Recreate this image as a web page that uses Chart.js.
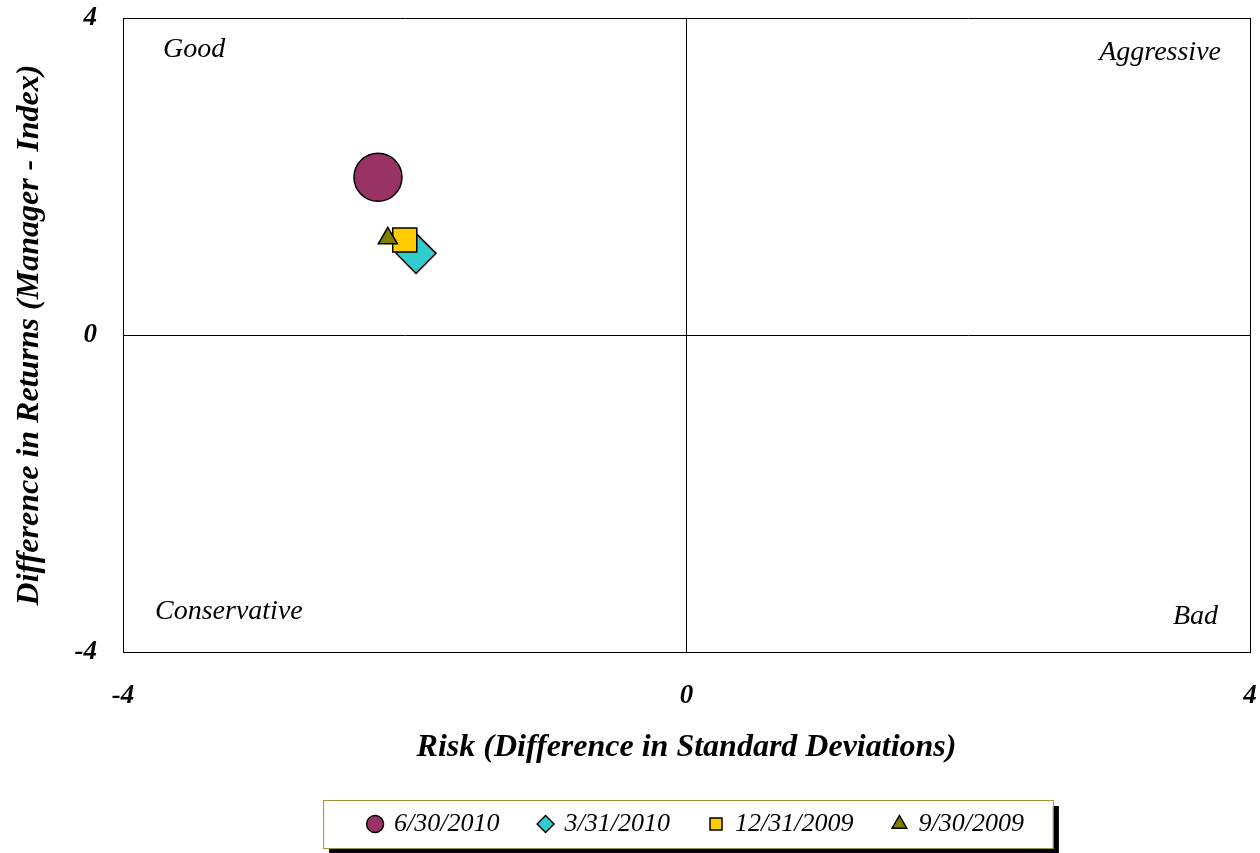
<!DOCTYPE html>
<html>
<head>
<meta charset="utf-8">
<script src="https://cdn.jsdelivr.net/npm/chart.js@4/dist/chart.umd.min.js"></script>
<style>
  html, body { margin: 0; padding: 0; background: #ffffff; }
  #wrap { width: 1260px; height: 853px; position: relative; }
</style>
</head>
<body>
<div id="wrap"><canvas id="c" width="1260" height="853"></canvas></div>
<script>
// Risk / return positions of the manager versus the index, by quarter end
const seriesNames = ['6/30/2010', '3/31/2010', '12/31/2009', '9/30/2009'];
const riskDiff    = [-2.19, -1.92, -2.00, -2.12];   // x: difference in standard deviations
const returnDiff  = [ 1.99,  1.03,  1.20,  1.22];   // y: difference in returns
const axisTicks   = [-4, 0, 4];
const quadrantNames = ['Good', 'Aggressive', 'Conservative', 'Bad'];

const markerStyles  = ['circle', 'rectRot', 'rect', 'triangle'];
const markerColors  = ['#993366', '#33CCCC', '#FFCC00', '#808000'];
const markerRadii   = [24, 20, 17, 11];
const drawOrder     = [4, 3, 2, 1];   // lower order is painted on top

const FONT = "'Liberation Serif', 'Times New Roman', serif";

const datasets = seriesNames.map((name, i) => ({
  label: name,
  data: [{ x: riskDiff[i], y: returnDiff[i] }],
  pointStyle: markerStyles[i],
  backgroundColor: markerColors[i],
  borderColor: '#000000',
  borderWidth: 1.5,
  pointRadius: markerRadii[i],
  pointHoverRadius: markerRadii[i],
  order: drawOrder[i]
}));

// Edge tick labels may overhang the plot area instead of shrinking it
const noEdgePadding = () => ({ left: 0, top: 0, right: 0, bottom: 0 });

// Quadrant captions placed inside the plot corners
const quadrantLabels = {
  id: 'quadrantLabels',
  beforeDatasetsDraw(chart) {
    const { ctx, chartArea: a } = chart;
    ctx.save();
    ctx.font = "italic 28px " + FONT;
    ctx.fillStyle = '#000000';
    ctx.textBaseline = 'middle';
    ctx.textAlign = 'left';
    ctx.fillText(quadrantNames[0], a.left + 40, a.top + 32);
    ctx.fillText(quadrantNames[2], a.left + 32, a.bottom - 40);
    ctx.textAlign = 'right';
    ctx.fillText(quadrantNames[1], a.right - 29, a.top + 35);
    ctx.fillText(quadrantNames[3], a.right - 32, a.bottom - 35);
    ctx.restore();
  }
};

// Legend centred under the plot area, in a framed panel with a drop shadow
const legendFrame = {
  id: 'legendFrame',
  afterLayout(chart) {
    const lg = chart.legend, a = chart.chartArea;
    if (!lg) return;
    const shift = (a.left + a.right) / 2 - (lg.left + lg.right) / 2 + 10;
    lg.left += shift;
    lg.right += shift;
  },
  beforeDraw(chart) {
    const lg = chart.legend;
    if (!lg || !lg.legendHitBoxes || !lg.legendHitBoxes.length) return;
    const boxes = lg.legendHitBoxes;
    let l = Infinity, r = -Infinity, t = Infinity, b = -Infinity;
    boxes.forEach(h => {
      l = Math.min(l, h.left); r = Math.max(r, h.left + h.width);
      t = Math.min(t, h.top);  b = Math.max(b, h.top + h.height);
    });
    const x0 = l - 46, x1 = r + 29, y0 = t - 11, y1 = b + 11;
    const ctx = chart.ctx;
    ctx.save();
    ctx.fillStyle = '#000000';
    ctx.fillRect(x0 + 6, y0 + 6, x1 - x0, y1 - y0);
    ctx.fillStyle = '#ffffff';
    ctx.fillRect(x0, y0, x1 - x0, y1 - y0);
    ctx.strokeStyle = '#999933';
    ctx.lineWidth = 1;
    ctx.strokeRect(x0 + 0.5, y0 + 0.5, x1 - x0, y1 - y0);
    ctx.restore();
  }
};

new Chart(document.getElementById('c'), {
  type: 'scatter',
  data: { datasets },
  plugins: [quadrantLabels, legendFrame],
  options: {
    responsive: false,
    animation: false,
    layout: { autoPadding: false, padding: { top: 18, right: 10, left: 0, bottom: 6 } },
    plugins: {
      tooltip: { enabled: false },
      legend: {
        position: 'bottom',
        labels: {
          usePointStyle: true,
          boxWidth: 12,
          boxHeight: 12,
          padding: 40,
          color: '#000000',
          font: { family: FONT, size: 26, style: 'italic' },
          sort: (a, b) => a.datasetIndex - b.datasetIndex
        }
      }
    },
    scales: {
      x: {
        type: 'linear',
        min: -4, max: 4,
        afterBuildTicks: s => { s.ticks = axisTicks.map(v => ({ value: v })); },
        afterFit: s => {
          s.height = 119;
          s.paddingLeft = 0; s.paddingRight = 0;
          s.getPadding = noEdgePadding;
        },
        ticks: {
          color: '#000000',
          padding: 28,
          font: { family: FONT, size: 27, style: 'italic', weight: 'bold' }
        },
        grid: { color: '#000000', lineWidth: 1, drawTicks: false },
        border: { display: true, color: '#000000', width: 1 },
        title: {
          display: true,
          text: 'Risk (Difference in Standard Deviations)',
          color: '#000000',
          padding: { top: 0, bottom: 4 },
          font: { family: FONT, size: 32, style: 'italic', weight: 'bold' }
        }
      },
      y: {
        type: 'linear',
        min: -4, max: 4,
        afterBuildTicks: s => { s.ticks = axisTicks.map(v => ({ value: v })); },
        afterFit: s => {
          s.width = 123;
          s.paddingTop = 0; s.paddingBottom = 0;
          s.getPadding = noEdgePadding;
        },
        ticks: {
          color: '#000000',
          padding: 26,
          font: { family: FONT, size: 27, style: 'italic', weight: 'bold' }
        },
        grid: { color: '#000000', lineWidth: 1, drawTicks: false },
        border: { display: true, color: '#000000', width: 1 },
        title: {
          display: true,
          text: 'Difference in Returns (Manager - Index)',
          color: '#000000',
          padding: { top: 11, bottom: 0 },
          font: { family: FONT, size: 32, style: 'italic', weight: 'bold' }
        }
      }
    }
  }
});
</script>
</body>
</html>
